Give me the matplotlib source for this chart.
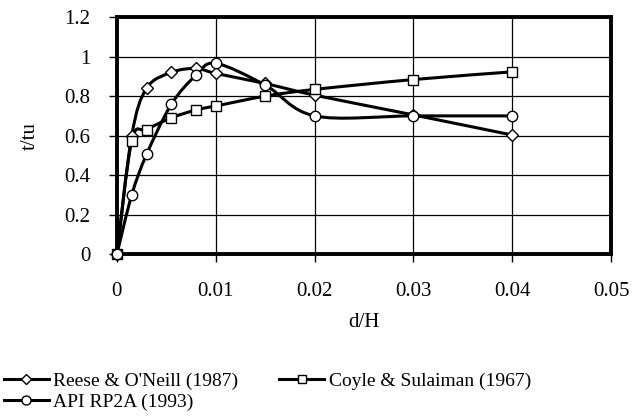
import numpy as np
import matplotlib
matplotlib.use("Agg")
import matplotlib.pyplot as plt
from matplotlib.path import Path
from matplotlib.patches import PathPatch
from matplotlib.lines import Line2D

plt.rcParams["font.family"] = ["Liberation Serif", "DejaVu Serif"]

# data
d_h = [0, 0.0015, 0.003, 0.0055, 0.008, 0.01, 0.015, 0.02, 0.03, 0.04]
reese = [0, 0.60, 0.84, 0.92, 0.94, 0.915, 0.864, 0.805, 0.705, 0.603]
coyle = [0, 0.574, 0.63, 0.69, 0.73, 0.75, 0.80, 0.834, 0.884, 0.923]
api = [0, 0.30, 0.505, 0.758, 0.906, 0.966, 0.856, 0.70, 0.70, 0.70]

x_ticks = [0, 0.01, 0.02, 0.03, 0.04, 0.05]
x_labels = ["0", "0.01", "0.02", "0.03", "0.04", "0.05"]
y_ticks = [0, 0.2, 0.4, 0.6, 0.8, 1.0, 1.2]
y_labels = ["0", "0.2", "0.4", "0.6", "0.8", "1", "1.2"]

names = ["Reese & O'Neill (1987)", "Coyle & Sulaiman (1967)", "API RP2A (1993)"]
markers = ["D", "s", "o"]
msizes = [6.5, 7, 7.5]


def smooth_path(xs, ys):
    # Excel-style smoothed line: cubic Bezier through every point
    pts = np.column_stack([xs, ys]).astype(float)
    n = len(pts)
    verts = [pts[0]]
    codes = [Path.MOVETO]
    for i in range(n - 1):
        p0 = pts[i - 1] if i > 0 else pts[i]
        p1 = pts[i]
        p2 = pts[i + 1]
        p3 = pts[i + 2] if i + 2 < n else pts[i + 1]
        verts += [p1 + (p2 - p0) / 6, p2 - (p3 - p1) / 6, p2]
        codes += [Path.CURVE4] * 3
    return Path(verts, codes)


fig = plt.figure(figsize=(6.32, 4.18), dpi=100)
ax = fig.add_axes([0.185, 0.392, 0.782, 0.567])

handles = []
for ys, name, m, ms in zip([reese, coyle, api], names, markers, msizes):
    ax.add_patch(PathPatch(smooth_path(d_h, ys), facecolor="none",
                           edgecolor="black", lw=2.2, zorder=3))
    ax.plot(d_h, ys, ls="none", marker=m, ms=ms, mfc="white", mec="black",
            mew=1.0, zorder=4, clip_on=False)
    handles.append(Line2D([], [], color="black", lw=2.2, marker=m, ms=ms - 1,
                          mfc="white", mec="black", mew=1.0, label=name))

ax.set_xlim(0, 0.05)
ax.set_ylim(0, 1.2)
ax.set_xticks(x_ticks)
ax.set_xticklabels(x_labels)
ax.set_yticks(y_ticks)
ax.set_yticklabels(y_labels)
ax.tick_params(direction="out", length=6, width=1, labelsize=15, colors="black")
ax.tick_params(axis="x", pad=14)
ax.tick_params(axis="y", pad=13)
ax.grid(True, color="black", lw=0.9)
ax.set_axisbelow(True)
for sp in ax.spines.values():
    sp.set_linewidth(2.8)

ax.set_xlabel("d/H", fontsize=15, labelpad=9)
ax.set_ylabel("t/tu", fontsize=15, labelpad=18)

# row-wise ordering for a 2-column legend
fig.legend([handles[0], handles[2], handles[1]],
           [names[0], names[2], names[1]],
           loc="upper left", bbox_to_anchor=(0.0, 0.118), ncol=2,
           frameon=False, fontsize=14, handlelength=2.3, handletextpad=0.25,
           columnspacing=2.1, labelspacing=0.15, borderpad=0.2,
           borderaxespad=0)

fig.savefig("out.png", dpi=100)
